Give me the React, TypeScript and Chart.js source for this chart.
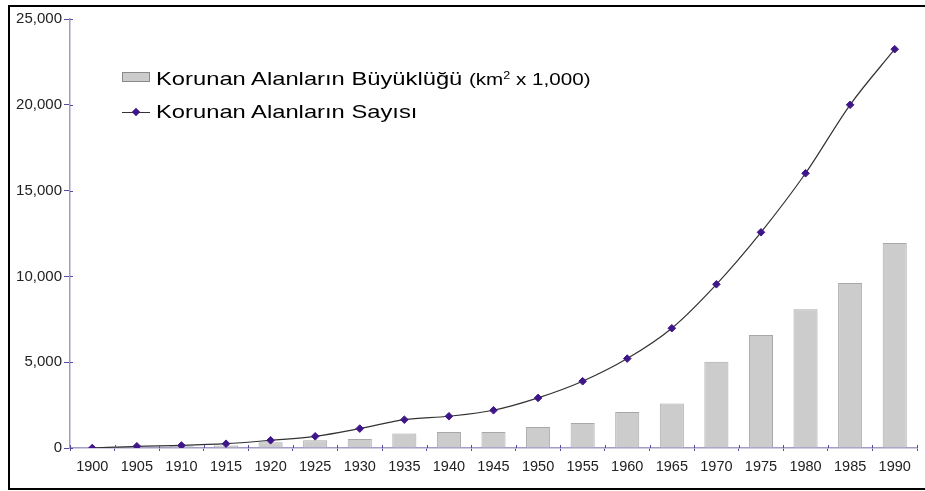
import React, { useEffect, useRef } from "react";
import { Chart, registerables } from "chart.js";

Chart.register(...registerables);

const years = ["1900","1905","1910","1915","1920","1925","1930","1935","1940","1945","1950","1955","1960","1965","1970","1975","1980","1985","1990"];
const areaSize = [20, 60, 100, 150, 330, 450, 530, 840, 930, 930, 1220, 1460, 2100, 2590, 5020, 6580, 8090, 9610, 11940];
const areaCount = [0, 100, 150, 250, 450, 680, 1130, 1650, 1850, 2200, 2920, 3890, 5210, 6980, 9540, 12570, 16010, 20000, 23240];
const yTicks = [0, 5000, 10000, 15000, 20000, 25000];

const legendBar = "Korunan Alanların Büyüklüğü";
const legendBarUnit = "(km";
const legendBarUnit2 = " x 1,000)";
const legendLine = "Korunan Alanların Sayısı";

const AXIS = "#a29dc8";
const TICK = "#5b4b9e";
const POINT = "#3f168a";
const FONT = "'Liberation Sans', Arial, sans-serif";

const innerTicks = {
  id: "innerTicks",
  afterDraw(chart: any) {
    const ctx = chart.ctx;
    const x = chart.scales.x;
    const y = chart.scales.y;
    ctx.save();
    ctx.strokeStyle = TICK;
    ctx.lineWidth = 1;
    const n = years.length;
    for (let i = 0; i <= n; i++) {
      const px = Math.round(x.left + (i * (x.right - x.left)) / n) + 0.5;
      ctx.beginPath();
      ctx.moveTo(px, y.bottom - 3);
      ctx.lineTo(px, y.bottom);
      ctx.stroke();
    }
    yTicks.forEach((v) => {
      const py = Math.round(y.getPixelForValue(v)) + 0.5;
      ctx.beginPath();
      ctx.moveTo(x.left, py);
      ctx.lineTo(x.left + 3, py);
      ctx.stroke();
    });
    ctx.restore();
  },
};

const legendText: React.CSSProperties = {
  position: "absolute",
  left: 156,
  fontFamily: FONT,
  fontSize: 19,
  color: "#000",
  whiteSpace: "nowrap",
  lineHeight: "22px",
  transform: "scaleX(1.25)",
  transformOrigin: "0 0",
};

export default function App() {
  const ref = useRef<HTMLCanvasElement>(null);

  useEffect(() => {
    document.body.style.margin = "0";
    document.body.style.overflow = "hidden";
    const chart = new Chart(ref.current as HTMLCanvasElement, {
      type: "bar",
      data: {
        labels: years,
        datasets: [
          {
            type: "line",
            label: legendLine,
            data: areaCount,
            borderColor: "#333333",
            borderWidth: 1.2,
            cubicInterpolationMode: "monotone",
            pointStyle: "rectRot",
            pointRadius: 3.8,
            pointBackgroundColor: POINT,
            pointBorderColor: POINT,
            pointBorderWidth: 1,
            order: 0,
          } as any,
          {
            type: "bar",
            label: legendBar,
            data: areaSize,
            backgroundColor: "#cccccc",
            borderColor: "#a8a8a8",
            borderWidth: 1,
            barPercentage: 0.54,
            categoryPercentage: 1,
            order: 1,
          },
        ],
      },
      options: {
        animation: false,
        responsive: false,
        locale: "en-US",
        layout: { padding: { left: 0, top: 19, right: 8, bottom: 0 } },
        plugins: { legend: { display: false }, tooltip: { enabled: false } },
        scales: {
          x: {
            offset: true,
            grid: {
              offset: true,
              drawOnChartArea: false,
              drawTicks: true,
              tickLength: 3,
              color: TICK,
            },
            border: { color: AXIS, width: 1.5 },
            ticks: {
              color: "#222",
              font: { family: FONT, size: 14.5 },
              padding: 7,
              maxRotation: 0,
              autoSkip: false,
            },
            afterFit: (s: any) => {
              s.height = 43;
            },
          },
          y: {
            min: 0,
            max: 25000,
            afterBuildTicks: (s: any) => {
              s.ticks = yTicks.map((v) => ({ value: v }));
            },
            grid: {
              drawOnChartArea: false,
              drawTicks: true,
              tickLength: 6,
              color: TICK,
            },
            border: { color: AXIS, width: 1.5 },
            ticks: {
              color: "#222",
              font: { family: FONT, size: 15 },
              padding: 2,
              callback: (v: any) => Number(v).toLocaleString("en-US"),
            },
            afterFit: (s: any) => {
              s.width = 70;
            },
          },
        },
      },
      plugins: [innerTicks],
    });
    return () => chart.destroy();
  }, []);

  return (
    <div style={{ position: "fixed", left: 0, top: 0, width: 925, height: 491, overflow: "hidden", background: "#fff" }}>
      <canvas ref={ref} width={925} height={491} style={{ position: "absolute", left: 0, top: 0 }} />
      <div style={{ position: "absolute", left: 8, top: 5, width: 940, height: 481, border: "2px solid #000", pointerEvents: "none" }} />
      <div style={{ position: "absolute", left: 122, top: 72, width: 26, height: 8, background: "#cccccc", border: "1px solid #8a8a8a" }} />
      <div style={{ ...legendText, top: 64 }}>
        {legendBar} <span style={{ fontSize: 16.5 }}>{legendBarUnit}<sup style={{ fontSize: 10 }}>2</sup>{legendBarUnit2}</span>
      </div>
      <div style={{ position: "absolute", left: 122, top: 112, width: 28, height: 1, background: "#333" }} />
      <div style={{ position: "absolute", left: 133, top: 109, width: 6, height: 6, background: POINT, transform: "rotate(45deg)" }} />
      <div style={{ ...legendText, top: 101 }}>
        {legendLine}
      </div>
    </div>
  );
}
